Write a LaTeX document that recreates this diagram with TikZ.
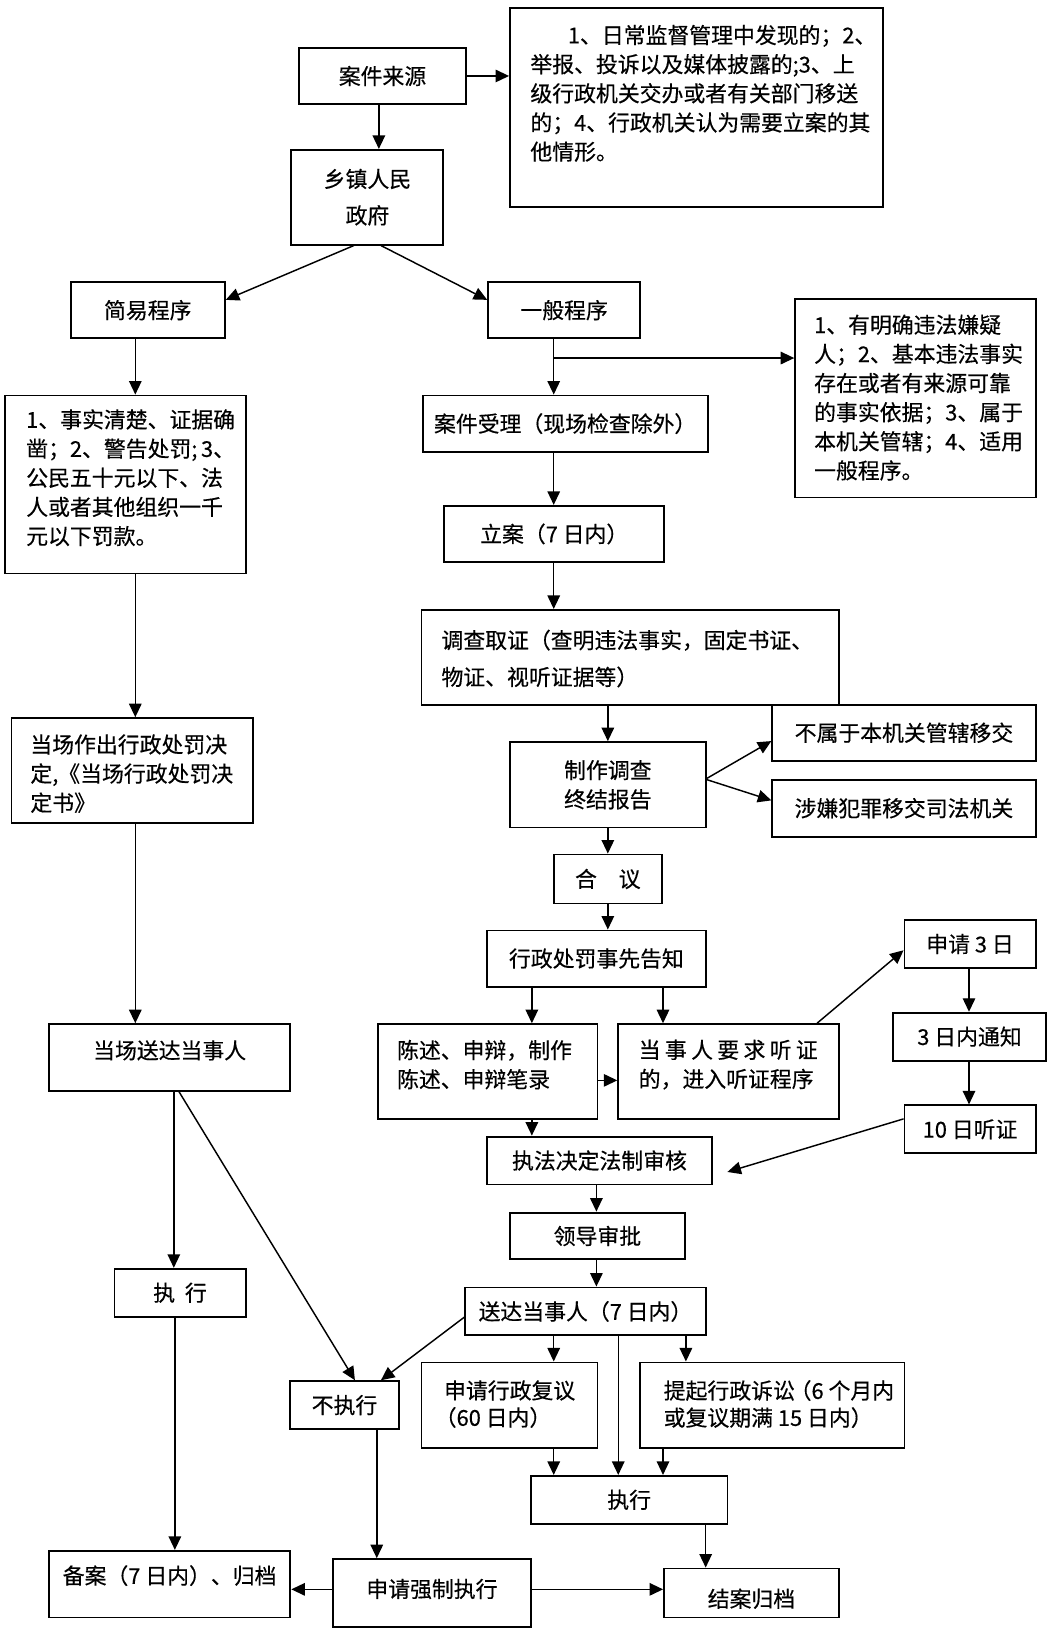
\documentclass[tikz,border=0pt]{standalone}
\usepackage{fontspec}
\setmainfont{Noto Sans CJK SC}[FakeBold=0.4]
\usetikzlibrary{arrows.meta}
\newcommand\BoxN[7][]{%
  \node[box,minimum width={(#5-#3)*1pt},minimum height={(#6-#4)*1pt},#1]
    (#2) at ({(#3+#5)/2},{(#4+#6)/2}) {#7};}
\begin{document}
\begin{tikzpicture}[x=1pt,y=-1pt,
  font=\fontsize{21}{28}\selectfont,
  box/.style={draw=black, line width=1.8pt, inner sep=0pt, align=center},
  txt/.style={inner sep=0pt, align=left},
  arr/.style={line width=1.4pt, -{Triangle[length=13pt,width=12pt]}}]
\fill[white] (0,0) rectangle (1016,1568);
\useasboundingbox (0,0) rectangle (1016,1568);

% ---------- boxes ----------
\BoxN{src}{287}{46}{448}{100}{案件来源}
\BoxN{note1}{490}{8}{848}{199}{}
\node[txt,anchor=west] (note1t) at (509.4,89.7) {\hspace*{36pt}1、日常监督管理中发现的；2、\\举报、投诉以及媒体披露的;3、上\\级行政机关交办或者有关部门移送\\的；4、行政机关认为需要立案的其\\他情形。};
\BoxN{xz}{280}{144}{426}{235}{乡镇人民\\[7pt]政府}
\BoxN{jy}{68}{271}{216}{325}{简易程序}
\BoxN{yb}{469}{271}{615}{325}{一般程序}
\BoxN{note2}{764}{287}{995}{478}{}
\node[txt,anchor=west] (note2t) at (782,382) {1、有明确违法嫌疑\\人；2、基本违法事实\\存在或者有来源可靠\\的事实依据；3、属于\\本机关管辖；4、适用\\一般程序。};
\BoxN{n3}{5}{380}{236}{551}{}
\node[txt,anchor=west] (n3t) at (25,459) {1、事实清楚、证据确\\凿；2、警告处罚;\,3、\\公民五十元以下、法\\人或者其他组织一千\\元以下罚款。};
\BoxN{sl}{406}{380}{680}{434}{案件受理（现场检查除外）}
\BoxN{la}{427}{486}{638}{540}{立案（7 日内）}
\BoxN{dc}{405}{586}{806}{677}{}
\node[txt,anchor=west] (dct) at (424,632.7) {调查取证（查明违法事实，固定书证、\\[7.4pt]物证、视听证据等）};
\BoxN{dczf}{11}{690}{243}{791}{}
\node[txt,anchor=west] (dczft) at (29,743.3) {当场作出行政处罚决\\定,《当场行政处罚决\\定书》};
\BoxN{zz}{490}{713}{678}{795}{制作调查\\终结报告}
\BoxN{bs}{742}{677}{995}{731}{不属于本机关管辖移交}
\BoxN{sx}{742}{749}{995}{804}{涉嫌犯罪移交司法机关}
\BoxN{hy}{532}{821}{636}{868}{合\quad 议}
\BoxN{gz}{468}{894}{678}{948}{行政处罚事先告知}
\BoxN{cs}{363}{984}{574}{1075}{}
\node[txt,anchor=west] (cst) at (381.3,1022.9) {陈述、申辩，制作\\陈述、申辩笔录};
\BoxN{tz}{594}{984}{806}{1075}{}
\node[txt,anchor=west] (tzt) at (613.5,1022.9) {\makebox[172pt][s]{当\hfill 事\hfill 人\hfill 要\hfill 求\hfill 听\hfill 证}\\的，进入听证程序};
\BoxN{s3}{869}{884}{995}{930}{申请 3 日}
\BoxN{t3}{858}{973}{1005}{1019}{3 日内通知}
\BoxN{t10}{869}{1062}{995}{1108}{10 日听证}
\BoxN{sh}{468}{1092}{684}{1138}{执法决定法制审核}
\BoxN{ld}{490}{1165}{658}{1210}{领导审批}
\BoxN{sd}{447}{1237}{678}{1283}{送达当事人（7 日内）}
\BoxN{dcsd}{47}{984}{279}{1048}{}
\node[txt] (dcsdt) at (163,1009.2) {当场送达当事人};
\BoxN{zxl}{110}{1219}{236}{1265}{执\hspace{0.45em}行}
\BoxN{bzx}{279}{1327}{383}{1373}{不执行}
\BoxN{fy}{405}{1309}{574}{1391}{}
\node[txt,anchor=west] (fyt) at (426.5,1349) {申请行政复议\\[-2pt]\hspace*{-9pt}（60 日内）};
\BoxN{ss}{615}{1309}{869}{1391}{}
\node[txt,anchor=west] (sst) at (637.5,1349) {提起行政诉讼\hspace{-5pt}（6 个月内\\[-2pt]或复议期满 15 日内）};
\BoxN{zxr}{510}{1418}{699}{1464}{执行}
\BoxN{ba}{47}{1490}{279}{1554}{}
\node[txt] (bat) at (163,1513.8) {备案（7 日内）、归档};
\BoxN{qz}{320}{1498}{510}{1563}{}
\node[txt] (qzt) at (415,1526.7) {申请强制执行};
\BoxN{ja}{638}{1507}{806}{1554}{}
\node[txt] (jat) at (722,1536) {结案归档};

% ---------- column / row helpers ----------
\foreach \c in {130,167,168,172,340,341,362,364,366,511,532,573,584,594,637,659,678,785,931}
  \coordinate (x\c) at (\c,0);
\coordinate (br) at (532,344);
\coordinate (yq) at (0,1527);

% ---------- connectors ----------
\draw[arr] (src.east) -- (note1.west |- src.east);
\draw[arr] (src.south -| x364) -- (xz.north -| x364);
\draw[arr] (xz.south -| x340) -- ([yshift=-18pt]jy.north east);
\draw[arr] (xz.south -| x366) -- ([yshift=-18pt]yb.north west);
\draw[arr] (jy.south -| x130) -- (n3.north -| x130);
\draw[arr] (yb.south -| x532) -- (sl.north -| x532);
\draw[arr] (br) -- (note2.west |- br);
\draw[arr] (sl.south -| x532) -- (la.north -| x532);
\draw[arr] (la.south -| x532) -- (dc.north -| x532);
\draw[arr] (n3.south -| x130) -- (dczf.north -| x130);
\draw[arr] (dc.south -| x584) -- (zz.north -| x584);
\draw[arr] ([yshift=6pt]zz.east) -- ([yshift=-8pt]bs.west);
\draw[arr] ([yshift=5pt]zz.east) -- ([yshift=7.5pt]sx.west);
\draw[arr] (zz.south -| x584) -- (hy.north -| x584);
\draw[arr] (hy.south -| x584) -- (gz.north -| x584);
\draw[arr] (dczf.south -| x130) -- (dcsd.north -| x130);
\draw[arr] (gz.south -| x511) -- (cs.north -| x511);
\draw[arr] (gz.south -| x637) -- (tz.north -| x637);
\draw[arr] ([yshift=-8.5pt]cs.east) -- ([yshift=-8.5pt]tz.west);
\draw[arr] (tz.north -| x785) -- ([yshift=-6pt]s3.west);
\draw[arr] (s3.south -| x931) -- (t3.north -| x931);
\draw[arr] (t3.south -| x931) -- (t10.north -| x931);
\draw[arr] ([yshift=10pt]t10.west) -- ([xshift=14pt,yshift=-11pt]sh.east);
\draw[arr] (cs.south -| x511) -- (sh.north -| x511);
\draw[arr] (sh.south -| x573) -- (ld.north -| x573);
\draw[arr] (ld.south -| x573) -- (sd.north -| x573);
\draw[arr] (dcsd.south -| x167) -- (zxl.north -| x167);
\draw[arr] (dcsd.south -| x172) -- (bzx.north -| x341);
\draw[arr] ([yshift=-5.5pt]sd.west) -- (bzx.north -| x366);
\draw[arr] (sd.south -| x532) -- (fy.north -| x532);
\draw[arr] (sd.south -| x659) -- (ss.north -| x659);
\draw[arr] (sd.south -| x594) -- (zxr.north -| x594);
\draw[arr] (fy.south -| x532) -- (zxr.north -| x532);
\draw[arr] (ss.south -| x637) -- (zxr.north -| x637);
\draw[arr] (zxl.south -| x168) -- (ba.north -| x168);
\draw[arr] (bzx.south -| x362) -- (qz.north -| x362);
\draw[arr] (zxr.south -| x678) -- (ja.north -| x678);
\draw[arr] (qz.west |- yq) -- (ba.east |- yq);
\draw[arr] (qz.east |- yq) -- (ja.west |- yq);
\end{tikzpicture}
\end{document}
